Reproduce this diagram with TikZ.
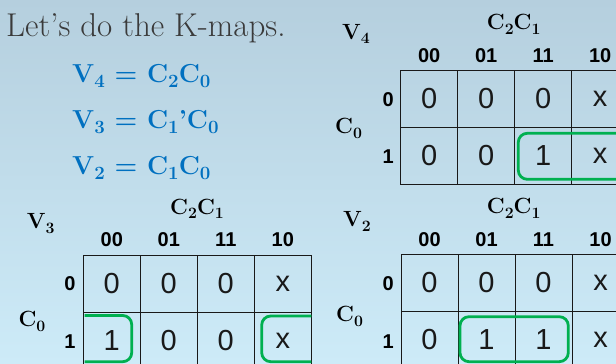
\documentclass[tikz,border=0pt]{standalone}
\usepackage{fontspec}
\usepackage{graphicx}
\newfontfamily\sansdig{Liberation Sans}
\definecolor{bgtop}{HTML}{B5CFDE}
\definecolor{bgbot}{HTML}{CDEBF8}
\definecolor{eqblue}{HTML}{0070C0}
\definecolor{grpgreen}{HTML}{00B050}
\definecolor{txtgray}{HTML}{3A3A3A}
\newcommand\lsub[1]{\raisebox{-0.22em}{\scalebox{0.72}{#1}}}
\newcommand\KMap[5]{%
  \foreach \v [count=\i from 0] in {#4}
    \node[cell] (#1-0-\i) at ({#2+28.5+57*\i},{#3+28.5}) {\v};
  \foreach \v [count=\i from 0] in {#5}
    \node[cell] (#1-1-\i) at ({#2+28.5+57*\i},{#3+85.5}) {\v};
  \foreach \t [count=\i from 0] in {00,01,11,10}
    \node[collab] (#1-c\i) at ({#2+28.5+57*\i},{#3-15}) {\t};
}
\begin{document}
\begin{tikzpicture}[x=1pt,y=-1pt,
  cell/.style={draw=black!90, line width=1pt, minimum size=57pt, inner sep=0pt,
    font=\sansdig\fontsize{29}{29}\selectfont, text=black!90},
  collab/.style={font=\sansdig\bfseries\fontsize{20}{20}\selectfont, inner sep=0pt},
  maplab/.style={font=\bfseries\fontsize{22}{22}\selectfont, inner sep=0pt, anchor=base west},
  eqn/.style={font=\bfseries\fontsize{26}{30}\selectfont, text=eqblue, inner sep=0pt, anchor=base west},
  grp/.style={draw=grpgreen, line width=2.8pt, rounded corners=9pt}]
\shade[top color=bgtop, bottom color=bgbot] (0,0) rectangle (616,364);
\clip (0,0) rectangle (616,364);
% title and equations
\node[font=\fontsize{33}{38}\selectfont, text=txtgray, inner sep=0pt, anchor=base west] (title) at (6,36) {Let's do the K-maps.};
\node[eqn] (eq4) at (72,82) {V\lsub{4} = C\lsub{2}C\lsub{0}};
\node[eqn] (eq3) at (72,128) {V\lsub{3} = C\lsub{1}'C\lsub{0}};
\node[eqn] (eq2) at (72,174) {V\lsub{2} = C\lsub{1}C\lsub{0}};
% V4 map
\KMap{ma}{400.7}{70.3}{0,0,0,x}{0,0,1,x}
\node[collab] (ma-r0) at (388.3,100) {0};
\node[collab] (ma-r1) at (388.3,157) {1};
\node[maplab] (ma-v) at (342,39) {V\lsub{4}};
\node[maplab] (ma-cc) at (486.7,29.3) {C\lsub{2}C\lsub{1}};
\node[maplab] (ma-c0) at (335,133.3) {C\lsub{0}};
\draw[grp] (518.3,133.3) rectangle (660,179.3);
% V3 map
\KMap{mb}{83.3}{255}{0,0,0,x}{1,0,0,x}
\node[collab] (mb-r0) at (70,284) {0};
\node[collab] (mb-r1) at (70,341.7) {1};
\node[maplab] (mb-v) at (26.7,228.3) {V\lsub{3}};
\node[maplab] (mb-cc) at (170,214) {C\lsub{2}C\lsub{1}};
\node[maplab] (mb-c0) at (18.3,326.7) {C\lsub{0}};
\draw[grp] (84.5,315.5) -- (131.7,315.5) -- (131.7,361.7) -- (84.5,361.7);
\draw[grp] (311.3,316) -- (261.7,316) -- (261.7,361.7) -- (311.3,361.7);
% V2 map
\KMap{mc}{401}{254.5}{0,0,0,x}{0,1,1,x}
\node[collab] (mc-r0) at (388.3,284) {0};
\node[collab] (mc-r1) at (388.3,341.7) {1};
\node[maplab] (mc-v) at (343,226.7) {V\lsub{2}};
\node[maplab] (mc-cc) at (486.7,213.3) {C\lsub{2}C\lsub{1}};
\node[maplab] (mc-c0) at (336,321.7) {C\lsub{0}};
\draw[grp] (460,316.7) rectangle (568.3,361.7);
\end{tikzpicture}
\end{document}
